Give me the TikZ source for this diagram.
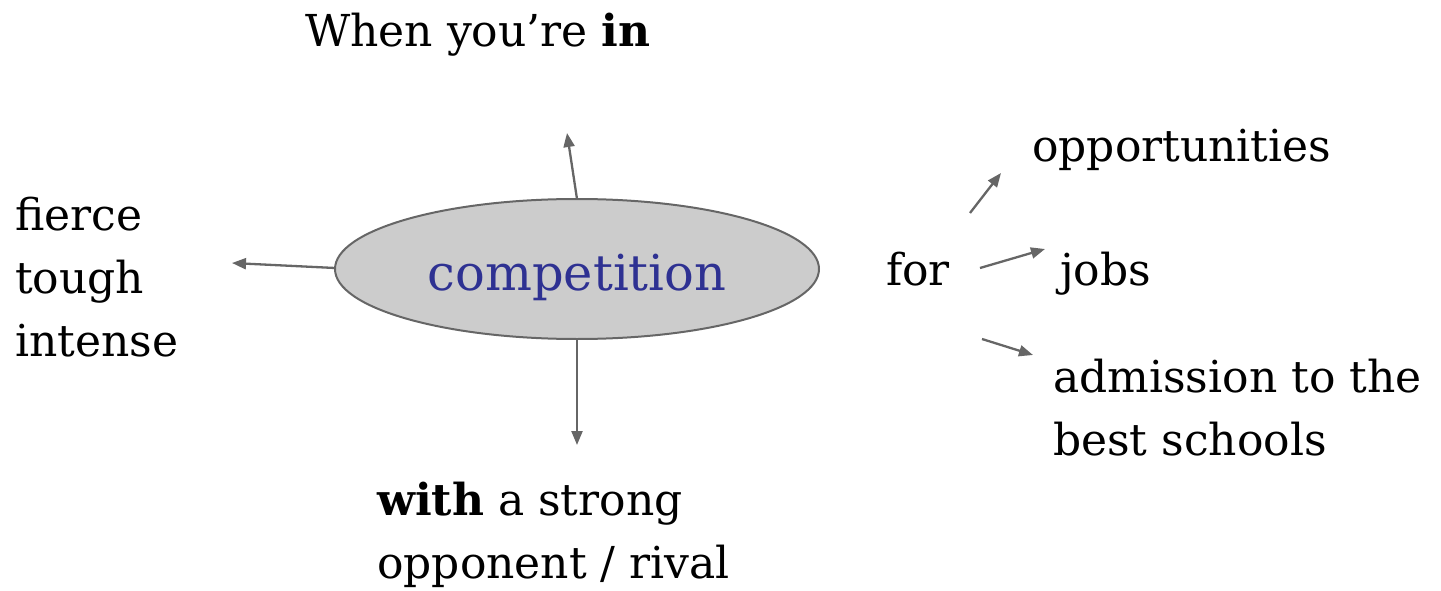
\documentclass[tikz,border=0pt]{standalone}
\usepackage{fontspec}
\setmainfont{DejaVu Serif}
\usetikzlibrary{arrows.meta,shapes.geometric}
\definecolor{linegray}{HTML}{666666}
\definecolor{fillgray}{HTML}{CCCCCC}
\definecolor{wordblue}{HTML}{2E3192}
\tikzset{
  word/.style={anchor=base west, inner sep=0pt, font=\fontsize{44}{63}\selectfont, align=left},
  pointer/.style={draw=linegray, line width=2.3pt, -{Triangle[length=14pt,width=11pt]}},
}
\begin{document}
\begin{tikzpicture}[x=1pt,y=-1pt]
\useasboundingbox (0,0) rectangle (1441,591);
% central term
\node[ellipse, draw=linegray, line width=2pt, fill=fillgray, minimum width=484pt, minimum height=140pt, inner sep=0pt] (core) at (577,269) {};
\node[anchor=base, inner sep=0pt, text=wordblue, font=\fontsize{49.5}{60}\selectfont] (term) at (577,290) {competition};
% surrounding words (multi-line nodes are placed by their last baseline)
\node[word] (inw) at (305,47) {When you’re \textbf{in}};
\node[word] (adj) at (15,356) {fierce\\tough\\intense};
\node[word] (with) at (377,578) {\textbf{with} a strong\\opponent / rival};
\node[word] (for) at (886,285) {for};
\node[word] (opp) at (1032,162) {opportunities};
\node[word] (jobs) at (1060,285) {jobs};
\node[word] (adm) at (1053,455) {admission to the\\best schools};
% arrow end points
\coordinate (cTop) at (577,199);
\coordinate (tTop) at (567,133);
\coordinate (cLeft) at (335,268);
\coordinate (tLeft) at (232,263);
\coordinate (cBot) at (577,339);
\coordinate (tBot) at (577,445);
\coordinate (f1) at (970,213);
\coordinate (t1) at (1001,173);
\coordinate (f2) at (980,268);
\coordinate (t2) at (1045,249);
\coordinate (f3) at (982,339);
\coordinate (t3) at (1033,355);
\draw[pointer] (cTop) -- (tTop);
\draw[pointer] (cLeft) -- (tLeft);
\draw[pointer] (cBot) -- (tBot);
\draw[pointer] (f1) -- (t1);
\draw[pointer] (f2) -- (t2);
\draw[pointer] (f3) -- (t3);
\end{tikzpicture}
\end{document}
